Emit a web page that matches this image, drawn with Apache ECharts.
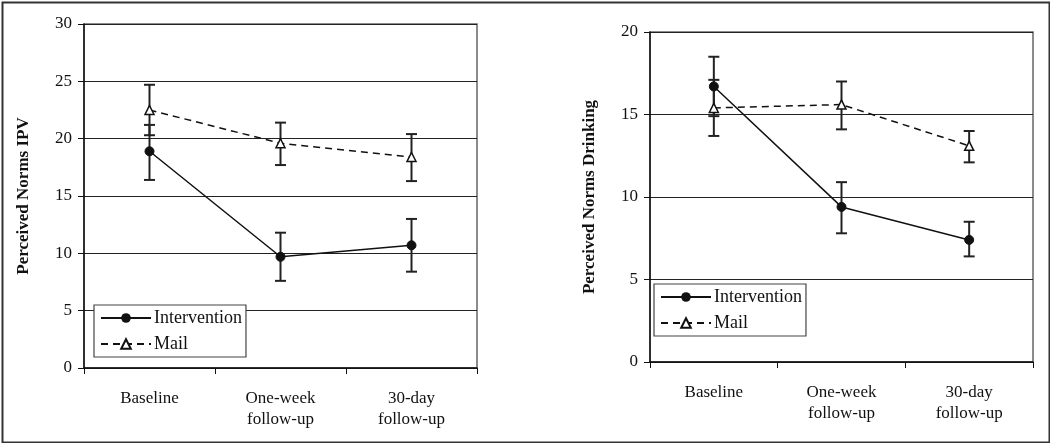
<!DOCTYPE html>
<html>
<head>
<meta charset="utf-8">
<script src="https://cdn.jsdelivr.net/npm/echarts@6/dist/echarts.min.js"></script>
<style>
html,body{margin:0;padding:0;background:#fff;}
#chart{width:1050px;height:443px;}
</style>
</head>
<body>
<div id="chart"></div>
<script>
// ---- Data ----
var categories = ['Baseline', 'One-week\nfollow-up', '30-day\nfollow-up'];
var seriesNames = ['Intervention', 'Mail'];

// Left panel: Perceived Norms IPV
var ipvIntervention     = [18.9, 9.7, 10.7];
var ipvInterventionLow  = [16.4, 7.6, 8.4];
var ipvInterventionHigh = [21.2, 11.8, 13.0];
var ipvMail     = [22.5, 19.6, 18.4];
var ipvMailLow  = [20.3, 17.7, 16.3];
var ipvMailHigh = [24.7, 21.4, 20.4];

// Right panel: Perceived Norms Drinking
var drinkIntervention     = [16.7, 9.4, 7.4];
var drinkInterventionLow  = [14.9, 7.8, 6.4];
var drinkInterventionHigh = [18.5, 10.9, 8.5];
var drinkMail     = [15.4, 15.6, 13.1];
var drinkMailLow  = [13.7, 14.1, 12.1];
var drinkMailHigh = [17.1, 17.0, 14.0];

var ipvTicks = {min: 0, max: 30, interval: 5};
var drinkTicks = {min: 0, max: 20, interval: 5};

// ---- Chart ----
var FONT = '"Liberation Serif", "Times New Roman", serif';
var chart = echarts.init(document.getElementById('chart'), null, {renderer: 'canvas'});

function errData(low, high) {
  return low.map(function (l, i) { return [i, l, high[i]]; });
}
function errorSeries(xi, yi, low, high) {
  return {
    type: 'custom',
    xAxisIndex: xi, yAxisIndex: yi,
    silent: true,
    z: 3,
    data: errData(low, high),
    renderItem: function (params, api) {
      var x = api.value(0);
      var lo = api.coord([x, api.value(1)]);
      var hi = api.coord([x, api.value(2)]);
      var w = 5.5;
      var st = {stroke: '#222', lineWidth: 2};
      return {
        type: 'group',
        children: [
          {type: 'line', shape: {x1: lo[0], y1: lo[1], x2: hi[0], y2: hi[1]}, style: st},
          {type: 'line', shape: {x1: lo[0] - w, y1: lo[1], x2: lo[0] + w, y2: lo[1]}, style: st},
          {type: 'line', shape: {x1: hi[0] - w, y1: hi[1], x2: hi[0] + w, y2: hi[1]}, style: st}
        ]
      };
    }
  };
}
function interventionSeries(xi, yi, data) {
  return {
    name: seriesNames[0], type: 'line', xAxisIndex: xi, yAxisIndex: yi,
    data: data, symbol: 'circle', symbolSize: 9, z: 4,
    lineStyle: {color: '#111', width: 1.5, type: 'solid'},
    itemStyle: {color: '#111', borderColor: '#111'}
  };
}
function mailSeries(xi, yi, data) {
  return {
    name: seriesNames[1], type: 'line', xAxisIndex: xi, yAxisIndex: yi,
    data: data, symbol: 'triangle', symbolSize: 9, z: 4,
    lineStyle: {color: '#111', width: 1.5, type: [7, 5]},
    itemStyle: {color: '#fff', borderColor: '#111', borderWidth: 1.5}
  };
}
function xAxisDef(gi) {
  return {
    type: 'category', gridIndex: gi, data: categories, boundaryGap: true,
    axisLine: {lineStyle: {color: '#111', width: 1.5}},
    axisTick: {show: true, inside: false, length: 6, lineStyle: {color: '#111', width: 1}},
    axisLabel: {fontFamily: FONT, fontSize: 17, color: '#111', margin: 20, lineHeight: 21, interval: 0},
    splitLine: {show: false}
  };
}
function yAxisDef(gi, t, name) {
  return {
    type: 'value', gridIndex: gi, min: t.min, max: t.max, interval: t.interval,
    name: name, nameLocation: 'middle', nameGap: 52, nameRotate: 90,
    nameTextStyle: {fontFamily: FONT, fontSize: 17, fontWeight: 'bold', color: '#111'},
    axisLine: {show: true, lineStyle: {color: '#111', width: 1.5}},
    axisTick: {show: true, length: 6, lineStyle: {color: '#111'}},
    axisLabel: {fontFamily: FONT, fontSize: 17, color: '#111', margin: 12},
    splitLine: {show: true, lineStyle: {color: '#222', width: 1.2}}
  };
}
function legendDef(left, top) {
  return {
    orient: 'vertical', left: left, top: top,
    backgroundColor: '#fff', borderColor: '#444', borderWidth: 1.2,
    padding: [4, 4, 4, 6], itemGap: 8, itemWidth: 50, itemHeight: 12,
    textStyle: {fontFamily: FONT, fontSize: 18, color: '#111', padding: [0, 0, 0, -2]},
    data: seriesNames, selectedMode: false, z: 10
  };
}

var option = {
  animation: false,
  backgroundColor: '#fff',
  grid: [
    {left: 84, right: 573, top: 24, bottom: 75, show: true, borderColor: '#666', borderWidth: 1.5, backgroundColor: 'transparent'},
    {left: 650, right: 17, top: 32, bottom: 81, show: true, borderColor: '#666', borderWidth: 1.5, backgroundColor: 'transparent'}
  ],
  legend: [legendDef(94, 305), legendDef(654, 284)],
  xAxis: [xAxisDef(0), xAxisDef(1)],
  yAxis: [yAxisDef(0, ipvTicks, 'Perceived Norms IPV'), yAxisDef(1, drinkTicks, 'Perceived Norms Drinking')],
  series: [
    errorSeries(0, 0, ipvInterventionLow, ipvInterventionHigh),
    errorSeries(0, 0, ipvMailLow, ipvMailHigh),
    interventionSeries(0, 0, ipvIntervention),
    mailSeries(0, 0, ipvMail),
    errorSeries(1, 1, drinkInterventionLow, drinkInterventionHigh),
    errorSeries(1, 1, drinkMailLow, drinkMailHigh),
    interventionSeries(1, 1, drinkIntervention),
    mailSeries(1, 1, drinkMail)
  ],
  graphic: [{
    type: 'rect', left: 0, top: 0, z: 100, silent: true,
    shape: {x: 1, y: 1, width: 1047, height: 440},
    style: {fill: 'none', stroke: '#333', lineWidth: 2}
  }]
};
chart.setOption(option);
</script>
</body>
</html>
